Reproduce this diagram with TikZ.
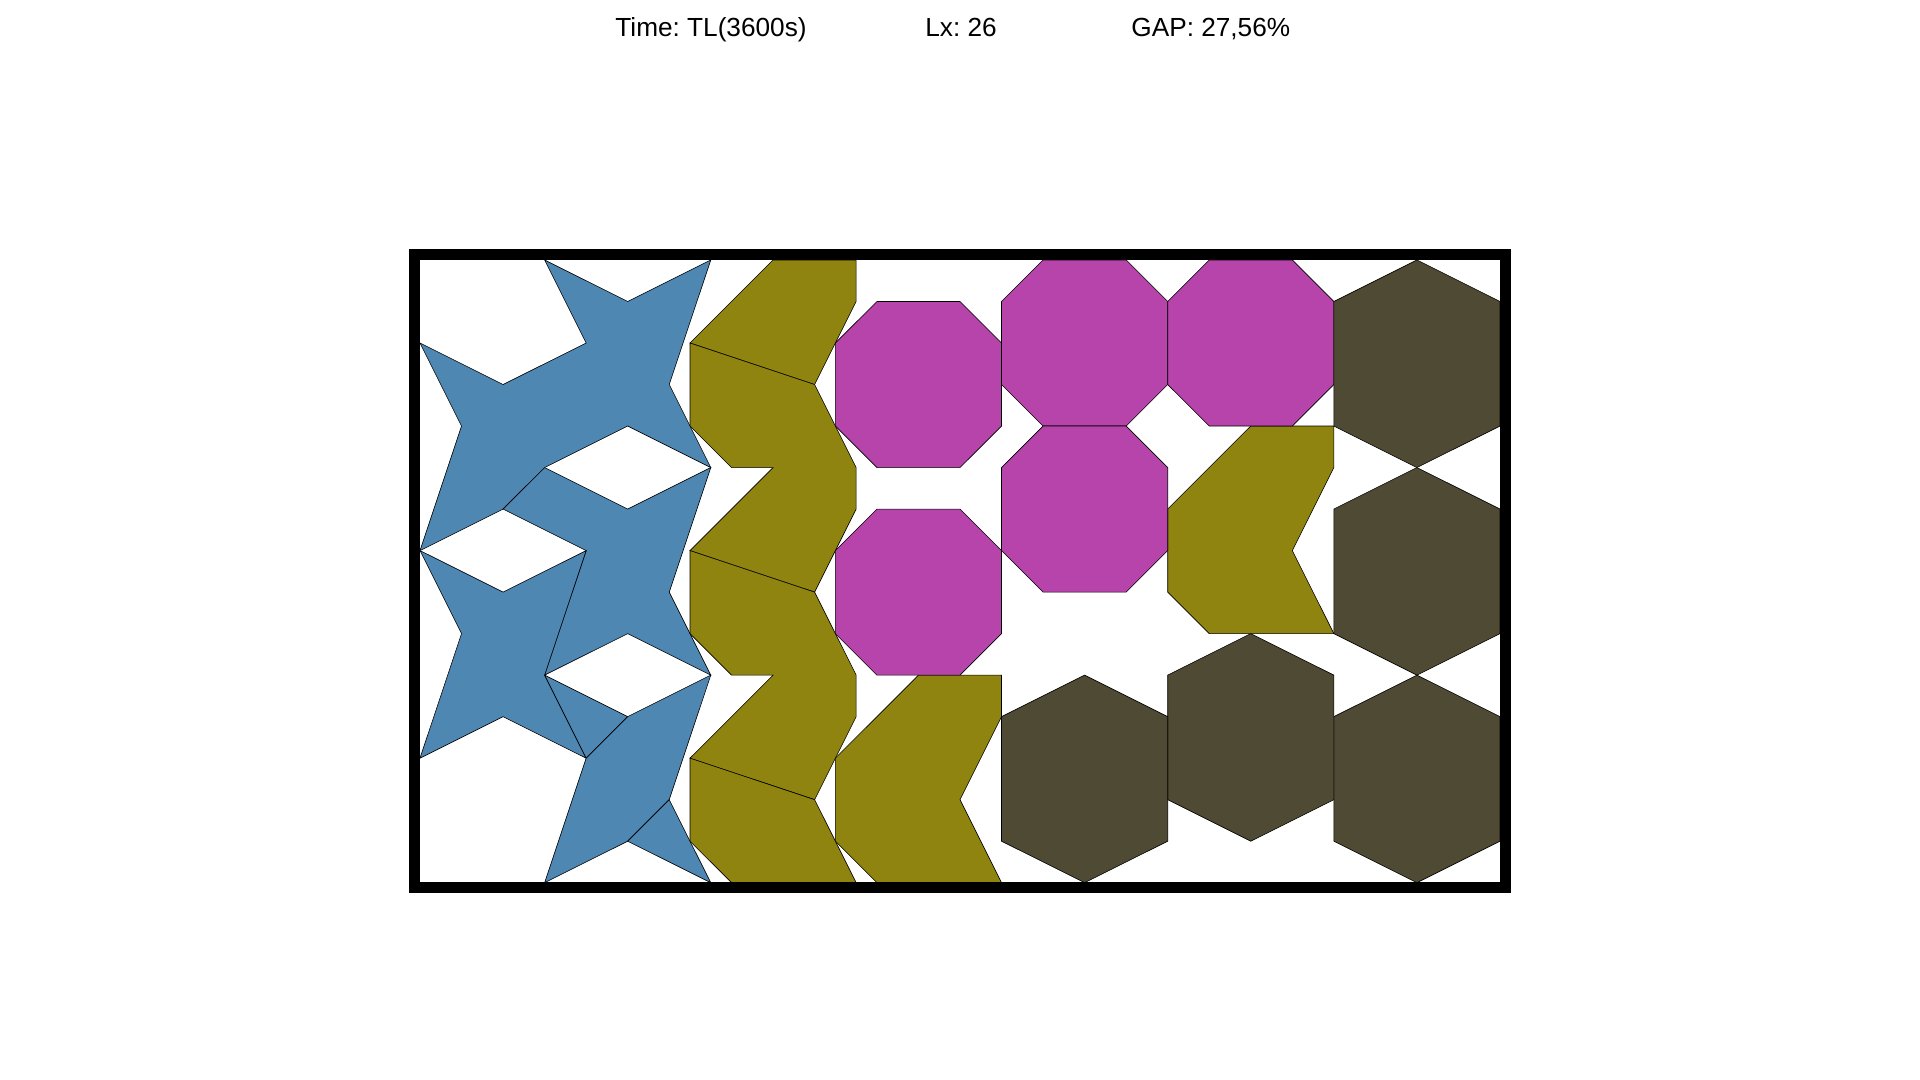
\documentclass[tikz,border=0pt]{standalone}
\usepackage{fontspec}
\setmainfont{Liberation Sans}
\definecolor{pblue}{RGB}{79,135,179}
\definecolor{polive}{RGB}{143,132,15}
\definecolor{pmag}{RGB}{183,68,170}
\definecolor{pdark}{RGB}{79,74,51}
\tikzset{
  piece/.style={draw=black, line width=0.3pt, line join=miter},
  bluepc/.style={piece, fill=pblue},
  olivepc/.style={piece, fill=polive},
  magpc/.style={piece, fill=pmag},
  darkpc/.style={piece, fill=pdark},
  title/.style={anchor=base west, inner sep=0pt, font=\fontsize{13.1pt}{15pt}\selectfont\frenchspacing},
  frame/.style={draw=black, line width=5.5pt}
}
\begin{document}
\begin{tikzpicture}[x=0.5pt, y=-0.5pt]
\useasboundingbox (0,0) rectangle (1920,1080);
\fill[white] (0,0) rectangle (1920,1080);
% titles
\node[title] (t1) at (615,37) {Time: TL(3600s)};
\node[title] (t2) at (925,37) {Lx: 26};
\node[title] (t3) at (1131,37) {GAP: 27,56\%};
% pieces in strip units (26 x 15)
\begin{scope}[shift={(210pt,-441.35pt)}, x=20.769pt, y=20.757pt]
  % blue stars
  \draw[bluepc] (0,13) -- (2,12) -- (4,13) -- (3,15) -- (5,14) -- (7,15) -- (6,12) -- (7,10) -- (5,11) -- (3,10) -- (2,9) -- (0,8) -- (1,11) -- cycle;
  \draw[bluepc] (3,10) -- (5,9) -- (7,10) -- (6,7) -- (7,5) -- (5,6) -- (3,5) -- (4,8) -- (2,9) -- cycle;
  \draw[bluepc] (0,8) -- (2,7) -- (4,8) -- (3,5) -- (4,3) -- (2,4) -- (0,3) -- (1,6) -- cycle;
  \draw[bluepc] (3,5) -- (4,3) -- (5,4) -- cycle;
  \draw[bluepc] (4,3) -- (5,4) -- (7,5) -- (6,2) -- (5,1) -- (3,0) -- cycle;
  \draw[bluepc] (5,1) -- (6,2) -- (7,0) -- cycle;
  % olive column
  \draw[olivepc] (6.5,13) -- (8.5,15) -- (10.5,15) -- (10.5,14) -- (9.5,12) -- cycle;
  \draw[olivepc] (6.5,13) -- (9.5,12) -- (10.5,10) -- (10.5,9) -- (9.5,7) -- (6.5,8) -- (8.5,10) -- (7.5,10) -- (6.5,11) -- cycle;
  \draw[olivepc] (6.5,8) -- (9.5,7) -- (10.5,5) -- (10.5,4) -- (9.5,2) -- (6.5,3) -- (8.5,5) -- (7.5,5) -- (6.5,6) -- cycle;
  \draw[olivepc] (6.5,3) -- (9.5,2) -- (10.5,0) -- (7.5,0) -- (6.5,1) -- cycle;
  % olive chevrons
  \foreach \p in {(10,0),(18,6)}
    \draw[olivepc, shift={\p}] (0,3) -- (2,5) -- (4,5) -- (4,4) -- (3,2) -- (4,0) -- (1,0) -- (0,1) -- cycle;
  % magenta octagons
  \foreach \p in {(10,10),(10,5),(14,11),(18,11),(14,7)}
    \draw[magpc, shift={\p}] (1,0) -- (3,0) -- (4,1) -- (4,3) -- (3,4) -- (1,4) -- (0,3) -- (0,1) -- cycle;
  % dark hexagons
  \foreach \p in {(22,10),(22,5),(22,0),(18,1),(14,0)}
    \draw[darkpc, shift={\p}] (2,5) -- (4,4) -- (4,1) -- (2,0) -- (0,1) -- (0,4) -- cycle;
\end{scope}
% container frame
\draw[frame] (414.5,254.5) rectangle (1505.5,887.7);
\end{tikzpicture}
\end{document}
